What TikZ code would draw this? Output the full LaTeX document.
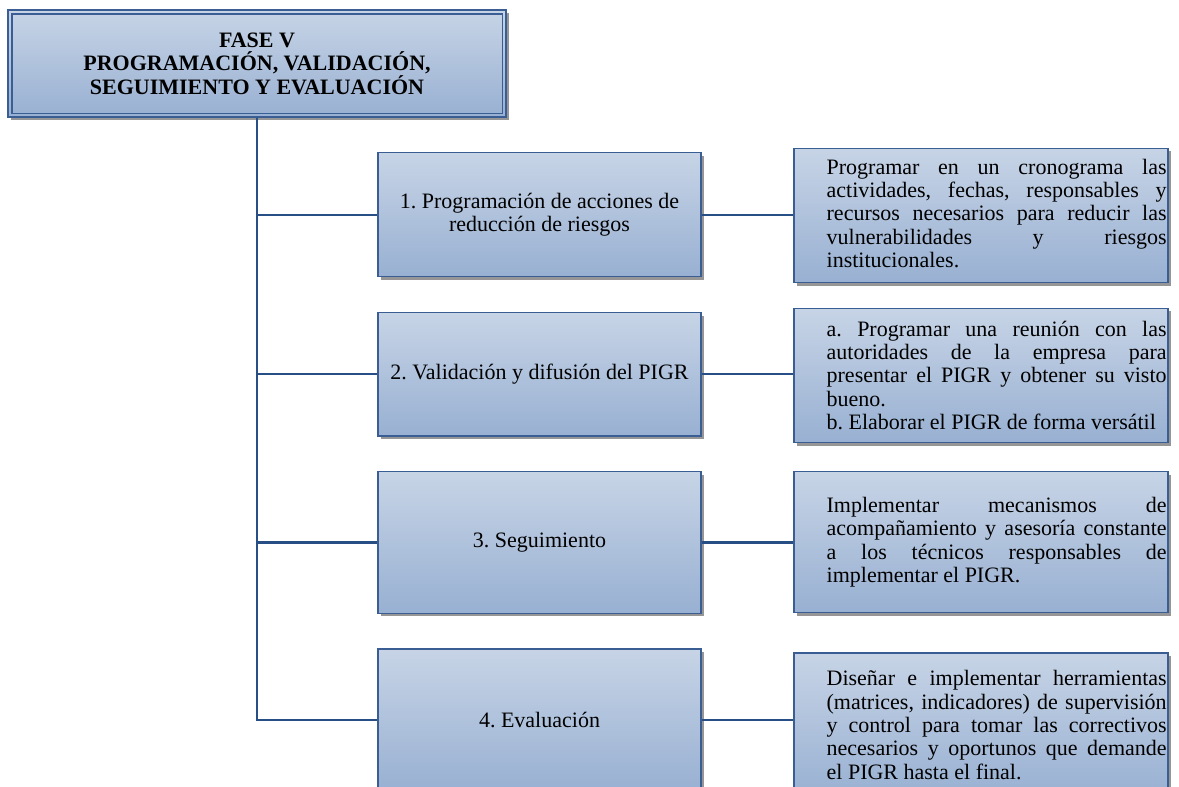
\documentclass[tikz,border=0pt]{standalone}
\usepackage{fontspec}
\setmainfont{Liberation Serif}
\usetikzlibrary{shadows}
\frenchspacing
\definecolor{boxtop}{RGB}{199,212,230}
\definecolor{boxbottom}{RGB}{152,176,210}
\definecolor{boxedge}{RGB}{58,94,148}
\definecolor{treeline}{RGB}{40,78,134}
\definecolor{shadowgray}{RGB}{150,150,150}
% one justified line of a description, spread to the full text width
\newcommand{\jl}[1]{\makebox[340pt][s]{#1}}
\tikzset{
  panel/.style={rectangle, draw=boxedge, line width=1.1pt,
    top color=boxtop, bottom color=boxbottom, inner sep=0pt,
    drop shadow={shadow xshift=3pt, shadow yshift=-3pt, fill=shadowgray, opacity=1}},
  stepbox/.style={panel, minimum width=323pt, align=center,
    font=\fontsize{22}{23.4}\selectfont},
  notebox/.style={panel, minimum width=374pt},
  notetext/.style={anchor=west, align=left, inner sep=0pt,
    font=\fontsize{22}{23.4}\selectfont},
  tree/.style={draw=treeline, line width=2.2pt},
}
\begin{document}
\begin{tikzpicture}[x=1pt,y=-1pt]
\useasboundingbox (0,0) rectangle (1179,787);
\clip (0,0) rectangle (1179,787);

% phase heading with double frame
\node[panel, minimum width=498pt, minimum height=107pt, align=center,
      font=\bfseries\fontsize{22}{23.4}\selectfont] (title) at (257,63.5)
  {FASE V\\PROGRAMACIÓN, VALIDACIÓN,\\SEGUIMIENTO Y EVALUACIÓN};
\draw[draw=boxedge, line width=1.1pt]
  ([shift={(4.5pt,-4.5pt)}]title.north west) rectangle
  ([shift={(-4.5pt,4.5pt)}]title.south east);

% steps
\node[stepbox, minimum height=124pt] (m1) at (539.5,214.7)
  {1. Programación de acciones de\\reducción de riesgos};
\node[stepbox, minimum height=123.4pt] (m2) at (539.5,374.3)
  {2. Validación y difusión del PIGR};
\node[stepbox, minimum height=141.6pt] (m3) at (539.5,542.5)
  {3. Seguimiento};
\node[stepbox, minimum height=142pt] (m4) at (539.5,720)
  {4. Evaluación};

% descriptions
\node[notebox, minimum height=134.7pt] (r1) at (981,215.4) {};
\node[notebox, minimum height=134.7pt] (r2) at (981,375.5) {};
\node[notebox, minimum height=141pt] (r3) at (981,542.2) {};
\node[notebox, minimum height=144pt] (r4) at (981,725) {};

\node[notetext] (t1) at ([shift={(33pt,2pt)}]r1.west)
  {\jl{Programar en un cronograma las}\\
   \jl{actividades, fechas, responsables y}\\
   \jl{recursos necesarios para reducir las}\\
   \jl{vulnerabilidades y riesgos}\\
   institucionales.};
\node[notetext] (t2) at ([shift={(33pt,0pt)}]r2.west)
  {\jl{a. Programar una reunión con las}\\
   \jl{autoridades de la empresa para}\\
   \jl{presentar el PIGR y obtener su visto}\\
   bueno.\\
   b. Elaborar el PIGR de forma versátil};
\node[notetext] (t3) at ([shift={(33pt,0pt)}]r3.west)
  {\jl{Implementar mecanismos de}\\
   \jl{acompañamiento y asesoría constante}\\
   \jl{a los técnicos responsables de}\\
   implementar el PIGR.};
\node[notetext] (t4) at ([shift={(33pt,0pt)}]r4.west)
  {\jl{Diseñar e implementar herramientas}\\
   \jl{(matrices, indicadores) de supervisión}\\
   \jl{y control para tomar las correctivos}\\
   \jl{necesarios y oportunos que demande}\\
   el PIGR hasta el final.};

% connectors
\draw[tree] (title.south) -- (title.south |- m4.west) -- (m4.west);
\foreach \k in {1,2,3} {
  \draw[tree] (title.south |- m\k.west) -- (m\k.west);
}
\foreach \k in {1,2,3,4} {
  \draw[tree] (m\k.east) -- (m\k.east -| r\k.west);
}
\end{tikzpicture}
\end{document}
